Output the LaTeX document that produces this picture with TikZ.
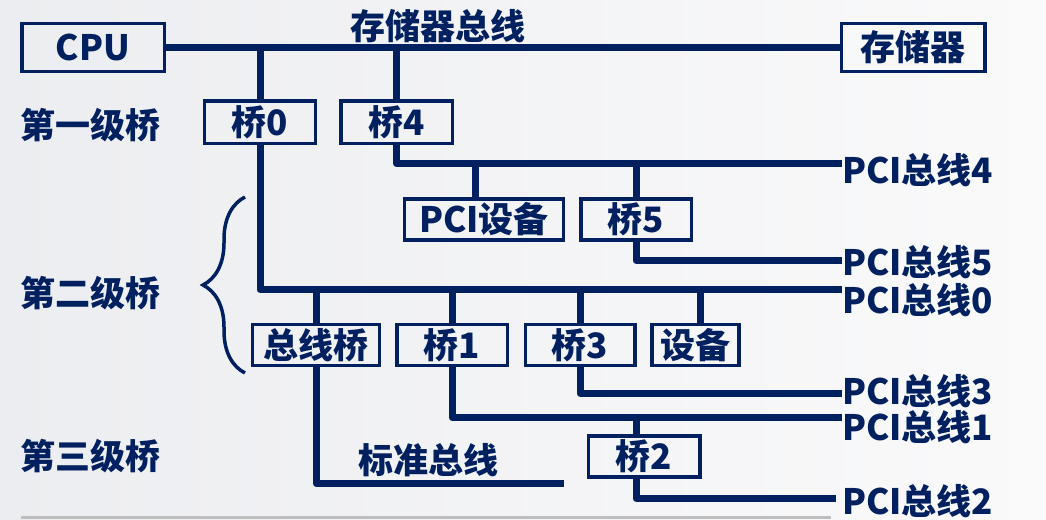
\documentclass[tikz,border=0pt]{standalone}
\usepackage{fontspec}
\setmainfont{Noto Sans CJK SC}
\usetikzlibrary{decorations.pathreplacing}
\definecolor{navy}{RGB}{0,32,96}
\definecolor{bgL}{RGB}{236,237,240}
\definecolor{bgR}{RGB}{250,250,251}
\definecolor{rulegray}{RGB}{190,190,190}
\begin{document}
\begin{tikzpicture}[x=1pt,y=-1pt,
  txt/.style={text=navy,inner sep=0pt,font=\bfseries\fontsize{35}{40}\selectfont,text height=29pt,text depth=2.5pt},
  box/.style={txt,draw=navy,line width=3.5pt},
  bus/.style={draw=navy,line width=7pt,line join=round},
  lbl/.style={txt,anchor=west}]
\useasboundingbox (0,0) rectangle (1046,519);
\fill[left color=bgL,right color=bgR] (0,0) rectangle (1046,519);

% boxes
\node[box,minimum width=142.5pt,minimum height=47.5pt] (cpu) at (93,47.5) {CPU};
\node[box,minimum width=143.5pt,minimum height=47.5pt] (mem) at (913,47.5) {存储器};
\node[box,minimum width=111pt,minimum height=42.5pt] (b0) at (260,122) {桥0};
\node[box,minimum width=111.5pt,minimum height=42.5pt] (b4) at (396.5,122) {桥4};
\node[box,minimum width=159pt,minimum height=41pt] (pcidev) at (484,219.5) {PCI设备};
\node[box,minimum width=110.5pt,minimum height=41pt] (b5) at (636,219.5) {桥5};
\node[box,minimum width=127pt,minimum height=41pt] (zqq) at (316,345) {总线桥};
\node[box,minimum width=110.5pt,minimum height=41pt] (b1) at (452,345) {桥1};
\node[box,minimum width=109.5pt,minimum height=41pt] (b3) at (580,345) {桥3};
\node[box,minimum width=87pt,minimum height=41pt] (dev) at (695.7,345) {设备};
\node[box,minimum width=111.5pt,minimum height=41pt] (b2) at (644,456.7) {桥2};

% labels
\node[txt] (mbl) at (438,26) {存储器总线};
\node[txt] (l1) at (90.5,125) {第一级桥};
\node[txt] (l2) at (90.5,293) {第二级桥};
\node[txt] (l3) at (90.5,456) {第三级桥};
\node[txt] (stdl) at (428,460) {标准总线};
\node[lbl] (pci4) at (842,170) {PCI总线4};
\node[lbl] (pci5) at (842,262) {PCI总线5};
\node[lbl] (pci0) at (842,300) {PCI总线0};
\node[lbl] (pci3) at (842,391) {PCI总线3};
\node[lbl] (pci1) at (842,427) {PCI总线1};
\node[lbl] (pci2) at (842,501) {PCI总线2};

% bus end points at the labels
\coordinate (e4) at ([yshift=6.5pt]pci4.west);
\coordinate (e5) at ([yshift=1.5pt]pci5.west);
\coordinate (e0) at ([yshift=10.3pt]pci0.west);
\coordinate (e3) at ([yshift=-2.3pt]pci3.west);
\coordinate (e1) at ([yshift=9.5pt]pci1.west);
\coordinate (e2) at ([yshift=2.7pt,xshift=-6pt]pci2.west);
\coordinate (stdend) at (564,483.5);
\coordinate (pdtop) at ([xshift=-8.5pt]pcidev.north);
\coordinate (devtop) at ([xshift=4.3pt]dev.north);
\coordinate (b2top) at ([xshift=-8pt]b2.north);
\coordinate (b2bot) at ([xshift=-8pt]b2.south);

% memory bus
\draw[bus] (cpu.east) -- (mem.west);
\draw[bus] (b0.north |- cpu.east) -- (b0.north);
\draw[bus] (b4.north |- cpu.east) -- (b4.north);

% PCI bus 4
\draw[bus] (b4.south) |- (e4);
\draw[bus] (pdtop |- e4) -- (pdtop);
\draw[bus] (b5.north |- e4) -- (b5.north);
% PCI bus 5
\draw[bus] (b5.south) |- (e5);
% PCI bus 0
\draw[bus] (b0.south) |- (e0);
\draw[bus] (zqq.north |- e0) -- (zqq.north);
\draw[bus] (b1.north |- e0) -- (b1.north);
\draw[bus] (b3.north |- e0) -- (b3.north);
\draw[bus] (devtop |- e0) -- (devtop);
% lower buses
\draw[bus] (zqq.south) |- (stdend);
\draw[bus] (b3.south) |- (e3);
\draw[bus] (b1.south) |- (e1);
\draw[bus] (b2top |- e1) -- (b2top);
\draw[bus] (b2bot) |- (e2);

% brace
\draw[navy,line width=3.5pt,decorate,decoration={brace,amplitude=42pt}] (245,373) -- (245,197);

% bottom rule
\draw[rulegray,line width=2.7pt] (21,517.3) -- (831,517.3);
\end{tikzpicture}
\end{document}
